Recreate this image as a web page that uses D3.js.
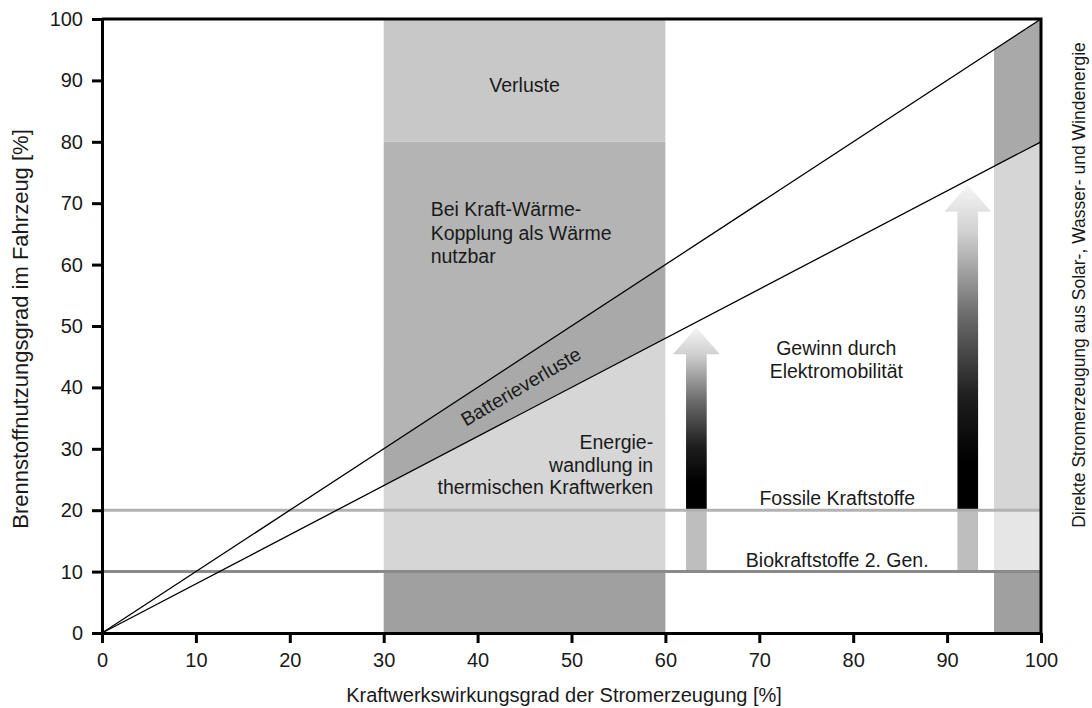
<!DOCTYPE html>
<html>
<head>
<meta charset="utf-8">
<script src="https://cdn.jsdelivr.net/npm/d3@7"></script>
<style>
  body { margin: 0; background: #fff; }
  svg text { font-family: 'Liberation Sans', Arial, Helvetica, sans-serif; fill: #1a1a1a; }
</style>
</head>
<body>
<svg id="chart" width="1092" height="708"></svg>
<script>
// ---- data ----
const xTicks = [0, 10, 20, 30, 40, 50, 60, 70, 80, 90, 100];
const yTicks = [0, 10, 20, 30, 40, 50, 60, 70, 80, 90, 100];
const lineX = [0, 100];
const upperLine = [0, 100];   // ohne Batterieverluste
const lowerLine = [0, 80];    // mit Batterieverluste
const thermalBand = [30, 60];
const renewableStrip = [95, 100];
const kwkLevel = 80;
const fuelLevels = [20, 10];
const fuelNames = ['Fossile Kraftstoffe', 'Biokraftstoffe 2. Gen.'];
const arrowX = [63.3, 92.2];
const arrowTip = [49.8, 73.0];

const svg = d3.select('#chart');
const x = d3.scaleLinear().domain([0, 100]).range([102, 1041]);
const y = d3.scaleLinear().domain([0, 100]).range([633, 19]);

const up = v => upperLine[0] + (upperLine[1] - upperLine[0]) * (v - lineX[0]) / (lineX[1] - lineX[0]);
const lo = v => lowerLine[0] + (lowerLine[1] - lowerLine[0]) * (v - lineX[0]) / (lineX[1] - lineX[0]);

const poly = pts => pts.map(p => [x(p[0]), y(p[1])].join(',')).join(' ');
function area(pts, fill) {
  svg.append('polygon').attr('points', poly(pts)).attr('fill', fill);
}

// gradient for the arrows
const grad = svg.append('defs').append('linearGradient')
  .attr('id', 'arrowGrad').attr('x1', 0).attr('y1', 0).attr('x2', 0).attr('y2', 1);
[[0, '#f6f6f6'], [0.15, '#cfcfcf'], [0.4, '#6c6c6c'], [0.65, '#1e1e1e'], [0.85, '#000'], [1, '#000']]
  .forEach(s => grad.append('stop').attr('offset', s[0]).attr('stop-color', s[1]));

// thermal power plants band
const [b0, b1] = thermalBand;
area([[b0, 0], [b1, 0], [b1, fuelLevels[1]], [b0, fuelLevels[1]]], '#a0a0a0');
area([[b0, fuelLevels[1]], [b1, fuelLevels[1]], [b1, lo(b1)], [b0, lo(b0)]], '#d6d6d6');
area([[b0, lo(b0)], [b1, lo(b1)], [b1, up(b1)], [b0, up(b0)]], '#a9a9a9');
area([[b0, up(b0)], [b1, up(b1)], [b1, kwkLevel], [b0, kwkLevel]], '#b4b4b4');
area([[b0, kwkLevel], [b1, kwkLevel], [b1, 100], [b0, 100]], '#c8c8c8');

// renewable strip
const [s0, s1] = renewableStrip;
area([[s0, 0], [s1, 0], [s1, fuelLevels[1]], [s0, fuelLevels[1]]], '#a0a0a0');
area([[s0, fuelLevels[1]], [s1, fuelLevels[1]], [s1, fuelLevels[0]], [s0, fuelLevels[0]]], '#e6e6e6');
area([[s0, fuelLevels[0]], [s1, fuelLevels[0]], [s1, lo(s1)], [s0, lo(s0)]], '#d6d6d6');
area([[s0, lo(s0)], [s1, lo(s1)], [s1, up(s1)], [s0, up(s0)]], '#a9a9a9');

// arrows
const shaftHalf = 1.1, headHalf = 2.5, headH = 4.4;
arrowX.forEach((cx, i) => {
  const tip = arrowTip[i];
  svg.append('rect')
    .attr('x', x(cx - shaftHalf)).attr('width', x(cx + shaftHalf) - x(cx - shaftHalf))
    .attr('y', y(fuelLevels[0])).attr('height', y(fuelLevels[1]) - y(fuelLevels[0]))
    .attr('fill', '#bebebe');
  area([[cx - shaftHalf, fuelLevels[0]], [cx + shaftHalf, fuelLevels[0]],
        [cx + shaftHalf, tip - headH], [cx + headHalf, tip - headH], [cx, tip],
        [cx - headHalf, tip - headH], [cx - shaftHalf, tip - headH]], 'url(#arrowGrad)');
});

// fuel levels
svg.selectAll('line.level').data(fuelLevels).enter().append('line')
  .attr('x1', x(0)).attr('x2', x(100))
  .attr('y1', d => y(d)).attr('y2', d => y(d))
  .attr('stroke', (d, i) => i == 0 ? '#b2b2b2' : '#8a8a8a')
  .attr('stroke-width', 3);

// efficiency lines
[upperLine, lowerLine].forEach(l => {
  svg.append('line')
    .attr('x1', x(lineX[0])).attr('y1', y(l[0]))
    .attr('x2', x(lineX[1])).attr('y2', y(l[1]))
    .attr('stroke', '#000').attr('stroke-width', 1.3);
});

// axes
const xAxis = svg.append('g').attr('transform', `translate(0,${y(0)})`)
  .call(d3.axisBottom(x).tickValues(xTicks).tickSize(10).tickSizeOuter(0).tickPadding(10));
const yAxis = svg.append('g').attr('transform', `translate(${x(0)},0)`)
  .call(d3.axisLeft(y).tickValues(yTicks).tickSize(10).tickSizeOuter(0).tickPadding(9));
[xAxis, yAxis].forEach(a => {
  a.select('.domain').attr('stroke-width', 3);
  a.selectAll('.tick line').attr('stroke-width', 3);
  a.selectAll('.tick text').style('font-size', '20px').attr('fill', '#1a1a1a');
});
// frame top and right
svg.append('path')
  .attr('d', `M${x(0)},${y(100)}H${x(100)}V${y(0)}`)
  .attr('fill', 'none').attr('stroke', '#000').attr('stroke-width', 3);

// axis titles
svg.append('text').attr('x', 564).attr('y', 702).attr('text-anchor', 'middle')
  .style('font-size', '20px').text('Kraftwerkswirkungsgrad der Stromerzeugung [%]');
svg.append('text').attr('transform', 'translate(28,329) rotate(-90)').attr('text-anchor', 'middle')
  .style('font-size', '22px').text('Brennstoffnutzungsgrad im Fahrzeug [%]');
svg.append('text').attr('transform', 'translate(1085,285) rotate(-90)').attr('text-anchor', 'middle')
  .style('font-size', '17.5px').text('Direkte Stromerzeugung aus Solar-, Wasser- und Windenergie');

// labels
function label(lines, px, py, anchor, lh, size) {
  const t = svg.append('text').attr('text-anchor', anchor).style('font-size', size + 'px');
  lines.forEach((s, i) => t.append('tspan').attr('x', px).attr('y', py + i * lh).text(s));
}
label(['Verluste'], x(45), 92, 'middle', 0, 19.5);
label(['Bei Kraft-Wärme-', 'Kopplung als Wärme', 'nutzbar'], x(35), 216, 'start', 23.5, 19.5);
label(['Energie-', 'wandlung in', 'thermischen Kraftwerken'], x(58.7), 449, 'end', 22.5, 19.5);
label(['Gewinn durch', 'Elektromobilität'], x(78.2), 355, 'middle', 23, 19.5);
label([fuelNames[0]], x(78.3), 505, 'middle', 0, 19.5);
label([fuelNames[1]], x(78.3), 567, 'middle', 0, 19.5);

// Batterieverluste along the lines
const mx = 44.6, my = (up(mx) + lo(mx)) / 2;
const ang = Math.atan2(y((up(60) + lo(60)) / 2) - y(0), x(60) - x(0)) * 180 / Math.PI;
svg.append('text')
  .attr('transform', `translate(${x(mx)},${y(my)}) rotate(${ang})`)
  .attr('text-anchor', 'middle').attr('dy', '0.35em')
  .style('font-size', '19.5px').text('Batterieverluste');
</script>
</body>
</html>
